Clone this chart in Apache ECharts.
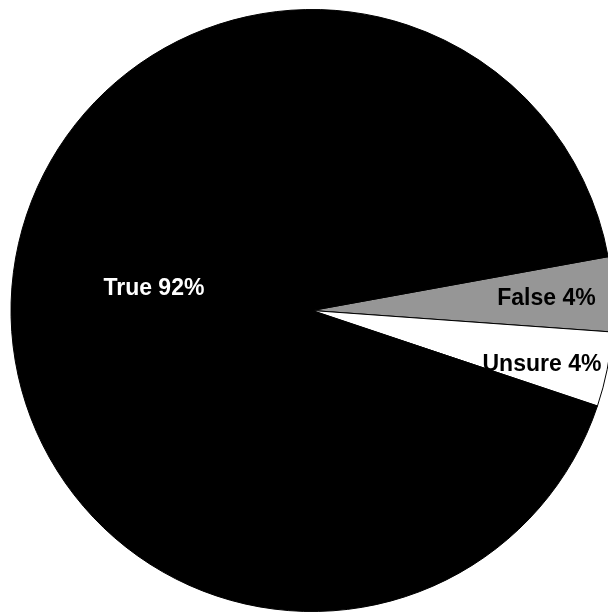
<!DOCTYPE html>
<html>
<head>
<meta charset="utf-8">
<script src="https://cdn.jsdelivr.net/npm/echarts@6/dist/echarts.min.js"></script>
<style>
  html, body { margin: 0; padding: 0; background: #fff; }
  #chart { width: 608px; height: 615px; }
</style>
</head>
<body>
<div id="chart"></div>
<script>
// Survey answers, in percent
const categories = ['False', 'Unsure', 'True'];
const values = [4, 4, 92];
const sliceColors = ['#969696', '#ffffff', '#000000'];
const labelColors = ['#000000', '#000000', '#ffffff'];
// label placement: distance from the centre as a share of the radius,
// and a small turn (degrees) away from the slice's mid angle
const labelDepth = [0.78, 0.785, 0.53];
const labelTurn = [-0.3, -2.0, -3.6];

const CX = 312, CY = 310.5, R = 301;

const chart = echarts.init(document.getElementById('chart'), null, { renderer: 'canvas' });

const data = categories.map((name, i) => ({
  name,
  value: values[i],
  itemStyle: { color: sliceColors[i] },
  label: { color: labelColors[i] }
}));

const total = values.reduce((a, b) => a + b, 0);
const startAngle = 10.3;
// mid angle (degrees, counter-clockwise from +x) of each slice, going clockwise
const midAngles = [];
{
  let a = startAngle;
  values.forEach(v => {
    const span = v / total * 360;
    midAngles.push(a - span / 2);
    a -= span;
  });
}

chart.setOption({
  animation: false,
  series: [{
    type: 'pie',
    center: [CX, CY],
    radius: R,
    startAngle: startAngle,
    clockwise: true,
    avoidLabelOverlap: false,
    itemStyle: { borderColor: '#000', borderWidth: 1 },
    label: {
      show: true,
      position: 'inside',
      formatter: p => p.name + ' ' + p.value + '%',
      fontFamily: '"Liberation Sans", Arial, sans-serif',
      fontWeight: 'bold',
      fontSize: 23
    },
    labelLine: { show: false },
    emphasis: { disabled: true },
    labelLayout: function (params) {
      const i = params.dataIndex;
      const rad = (midAngles[i] + labelTurn[i]) * Math.PI / 180;
      const tx = CX + Math.cos(rad) * R * labelDepth[i];
      const ty = CY - Math.sin(rad) * R * labelDepth[i];
      const lr = params.labelRect;
      return {
        dx: tx - (lr.x + lr.width / 2),
        dy: ty - (lr.y + lr.height / 2)
      };
    },
    data: data
  }]
});
</script>
</body>
</html>
